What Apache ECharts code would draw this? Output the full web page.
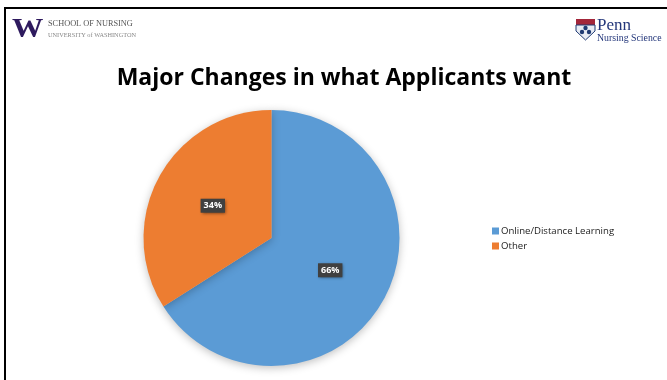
<!DOCTYPE html>
<html>
<head>
<meta charset="utf-8">
<script src="https://cdn.jsdelivr.net/npm/echarts@6/dist/echarts.min.js"></script>
<style>
  html, body { margin: 0; padding: 0; background: #fff; }
  #chart { width: 667px; height: 380px; }
</style>
</head>
<body>
<div id="chart"></div>
<script>
// Survey answers and their shares
const categories = ['Online/Distance Learning', 'Other'];
const shares = [66, 34];
const sliceColors = ['#5b9bd5', '#ed7d31'];

const chart = echarts.init(document.getElementById('chart'), null, { renderer: 'canvas' });

const serif = '"Liberation Serif", "DejaVu Serif", serif';

chart.setOption({
  backgroundColor: '#ffffff',
  animation: false,
  title: {
    text: 'Major Changes in what Applicants want',
    left: 339,
    top: 62,
    textAlign: 'center',
    textStyle: {
      fontFamily: '"Open Sans", "Liberation Sans", sans-serif',
      fontWeight: 'bold',
      fontSize: 23,
      color: '#000000'
    }
  },
  legend: {
    orient: 'vertical',
    left: 487,
    top: 221,
    itemWidth: 7,
    itemHeight: 7,
    itemGap: 5,
    icon: 'rect',
    data: categories,
    textStyle: {
      fontFamily: '"Open Sans", "Liberation Sans", sans-serif',
      fontSize: 9.6,
      color: '#222',
      padding: [0, 0, 0, -3]
    }
  },
  graphic: [
    // slide frame
    { type: 'rect', shape: { x: 4, y: 7, width: 663, height: 2 }, style: { fill: '#000' } },
    { type: 'rect', shape: { x: 4, y: 7, width: 2, height: 373 }, style: { fill: '#000' } },
    // University of Washington mark
    { type: 'text', x: 12, y: 16, scaleX: 1.12,
      style: { text: 'W', font: 'bold 28px ' + serif, fill: '#2e1a5e' } },
    { type: 'text', left: 48, top: 20,
      style: { text: 'SCHOOL OF NURSING', font: '8.3px ' + serif, fill: '#555' } },
    { type: 'text', left: 48, top: 32,
      style: { text: 'UNIVERSITY of WASHINGTON', font: '6.3px ' + serif, fill: '#888' } },
    // Penn Nursing Science mark
    { type: 'rect', shape: { x: 576, y: 19, width: 19, height: 6 }, style: { fill: '#a3263a' } },
    { type: 'polygon', shape: { points: [[576, 25], [595, 25], [595, 31], [585.5, 40], [576, 31]] },
      style: { fill: '#e8ecf4', stroke: '#1f3a73', lineWidth: 1 } },
    { type: 'circle', shape: { cx: 582, cy: 32, r: 2.2 }, style: { fill: '#1f3a73' } },
    { type: 'circle', shape: { cx: 589, cy: 32, r: 2.2 }, style: { fill: '#1f3a73' } },
    { type: 'circle', shape: { cx: 585.5, cy: 28, r: 2.2 }, style: { fill: '#1f3a73' } },
    { type: 'text', left: 597, top: 17,
      style: { text: 'Penn', font: '17px ' + serif, fill: '#23367a' } },
    { type: 'text', left: 597, top: 33,
      style: { text: 'Nursing Science', font: '9.8px ' + serif, fill: '#23367a' } }
  ],
  series: [{
    type: 'pie',
    center: [271.5, 238],
    radius: 128,
    startAngle: 90,
    clockwise: true,
    avoidLabelOverlap: false,
    silent: true,
    data: categories.map((name, i) => ({
      name,
      value: shares[i],
      itemStyle: { color: sliceColors[i] }
    })),
    itemStyle: {
      shadowBlur: 8,
      shadowColor: 'rgba(0,0,0,0.25)',
      shadowOffsetY: 2
    },
    label: {
      show: true,
      position: 'inside',
      formatter: p => p.value + '%',
      fontFamily: '"Open Sans", "Liberation Sans", sans-serif',
      fontWeight: 'bold',
      fontSize: 9,
      color: '#ffffff',
      backgroundColor: '#404040',
      padding: [3, 3, 2, 3],
      shadowBlur: 3,
      shadowColor: 'rgba(0,0,0,0.5)',
      shadowOffsetX: 1,
      shadowOffsetY: 1
    },
    labelLine: { show: false }
  }]
});
</script>
</body>
</html>
